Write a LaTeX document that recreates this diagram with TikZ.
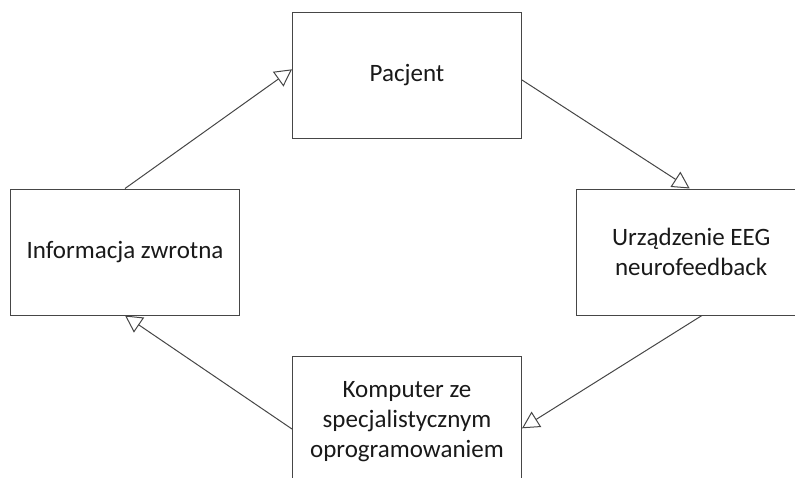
\documentclass[tikz,border=0pt]{standalone}
\usepackage{fontspec}
\setmainfont{Carlito}
\usetikzlibrary{arrows.meta}
\definecolor{linegray}{RGB}{70,70,70}
\definecolor{textgray}{RGB}{25,25,25}
\begin{document}
\begin{tikzpicture}[x=1pt,y=-1pt,
  box/.style={draw=linegray, line width=1pt, minimum width=229pt, minimum height=126pt, inner sep=0pt, align=center, text=textgray, font=\fontsize{25}{30}\selectfont},
  flow/.style={draw=linegray, line width=1pt, -{Triangle[open, length=17pt, width=18pt]}}]
\clip (0,0) rectangle (795,477);
\node[box] (pac) at (407,75.3) {Pacjent};
\node[box] (info) at (125,252) {Informacja zwrotna};
\node[box] (urz) at (691.2,252) {Urządzenie EEG\\neurofeedback};
\node[box, minimum height=132pt] (kom) at (407,422) {Komputer ze\\specjalistycznym\\oprogramowaniem};
\draw[flow] (info.north) -- ([yshift=6pt]pac.west);
\draw[flow] ([yshift=-4.7pt]pac.east) -- ([xshift=-1.5pt]urz.north);
\draw[flow] ([xshift=10.7pt]urz.south) -- ([yshift=-6.3pt]kom.east);
\draw[flow] ([yshift=-7pt]kom.west) -- (info.south);
\end{tikzpicture}
\end{document}
